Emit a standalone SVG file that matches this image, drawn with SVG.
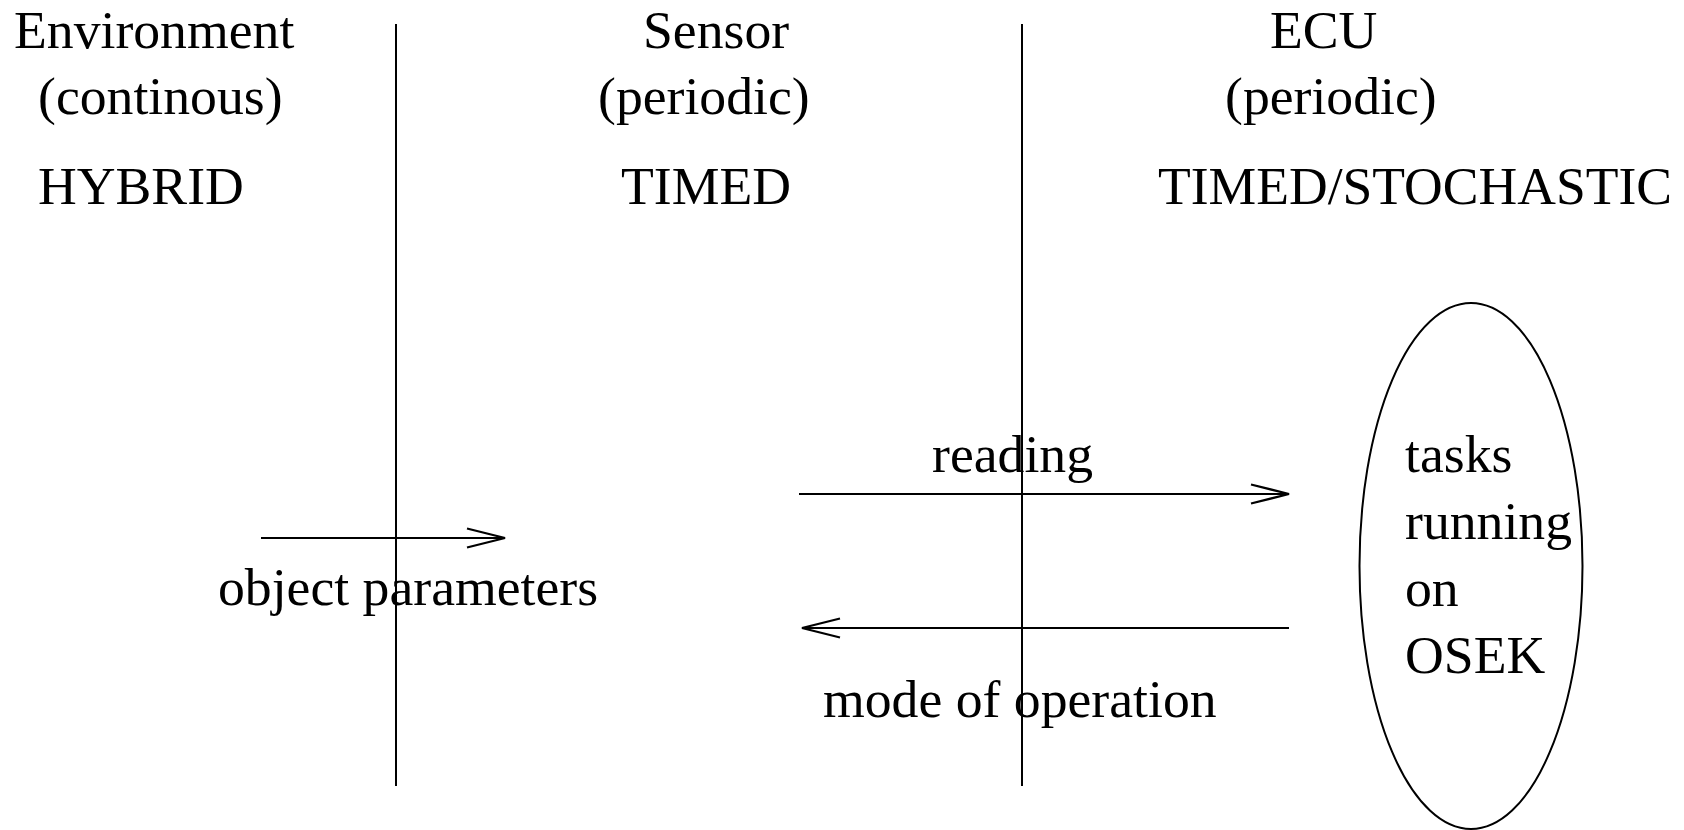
<svg xmlns="http://www.w3.org/2000/svg" width="1684" height="830" viewBox="0 0 1684 830">
<style>
text{font-family:"Liberation Serif","Times New Roman",serif;font-size:53.7px;fill:#000}
.ln{stroke:#000;stroke-width:2;fill:none}
</style>
<defs>
<marker id="ah" markerUnits="userSpaceOnUse" markerWidth="44" markerHeight="24" refX="39" refY="11" orient="auto">
<path d="M1,1.5 L39,11 L1,20.5" fill="none" stroke="#000" stroke-width="2.2"/>
</marker>
</defs>
<rect width="1684" height="830" fill="#fff"/>
<g id="dividers">
<line class="ln" x1="396" y1="24" x2="396" y2="786"/>
<line class="ln" x1="1022" y1="24" x2="1022" y2="786"/>
</g>
<g id="environment">
<text x="14" y="48">Environment</text>
<text x="38" y="114">(continous)</text>
<text x="38" y="204">HYBRID</text>
</g>
<g id="sensor">
<text x="643" y="48">Sensor</text>
<text x="598" y="114">(periodic)</text>
<text x="621" y="204">TIMED</text>
</g>
<g id="ecu">
<text x="1270" y="48">ECU</text>
<text x="1225" y="114">(periodic)</text>
<text x="1158" y="204" textLength="514" lengthAdjust="spacingAndGlyphs">TIMED/STOCHASTIC</text>
</g>
<g id="tasks">
<ellipse class="ln" cx="1471" cy="566" rx="111.5" ry="263"/>
<text x="1405" y="472">tasks</text>
<text x="1405" y="539">running</text>
<text x="1405" y="606">on</text>
<text x="1405" y="673">OSEK</text>
</g>
<g id="connectors">
<line class="ln" x1="261" y1="538" x2="505" y2="538" marker-end="url(#ah)"/>
<line class="ln" x1="799" y1="494" x2="1289" y2="494" marker-end="url(#ah)"/>
<line class="ln" x1="1289" y1="628" x2="802" y2="628" marker-end="url(#ah)"/>
<text x="218" y="605">object parameters</text>
<text x="932" y="472">reading</text>
<text x="823" y="717">mode of operation</text>
</g>
</svg>
